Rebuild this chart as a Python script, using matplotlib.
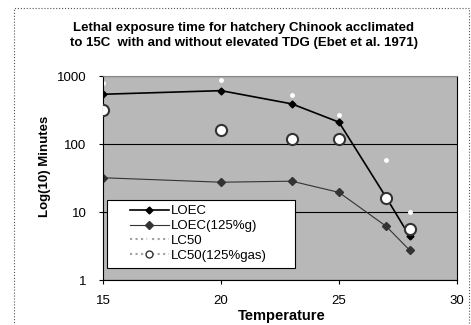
import matplotlib
matplotlib.use('Agg')
import matplotlib.pyplot as plt
from matplotlib.patches import Rectangle

plt.rcParams['font.family'] = ['Liberation Sans', 'DejaVu Sans']

# Data
temps = [15, 20, 23, 25, 27, 28]
loec = [540, 610, 390, 210, 16.5, 4.4]
loec_gas = [32, 27.5, 28.5, 19.5, 6.2, 2.75]
lc50 = [790, 870, 525, 265, 58, 10]
lc50_gas = [315, 160, 120, 120, 16, 5.6]

fig = plt.figure(figsize=(4.71, 3.25), dpi=100)
ax = fig.add_axes([0.219, 0.138, 0.751, 0.628])
ax.set_facecolor('#b8b8b8')

# outer frame of the figure
fig.patches.append(Rectangle((0.03, -0.01), 0.965, 0.985, transform=fig.transFigure,
                             fill=False, edgecolor='#555555', lw=0.8, ls=':'))

ax.set_yscale('log')
ax.set_ylim(1, 1000)
ax.set_xlim(15, 30)
ax.set_xticks([15, 20, 25, 30])
ax.set_yticks([1, 10, 100, 1000])
ax.set_yticklabels(['1', '10', '100', '1000'])
ax.minorticks_off()
ax.yaxis.grid(True, color='black', lw=0.8)
ax.set_axisbelow(True)
for s in ax.spines.values():
    s.set_linewidth(0.8)
ax.spines['top'].set_color('#888888')
ax.tick_params(labelsize=9.5, length=3, width=0.8)
ax.tick_params(axis='y', pad=9)
ax.tick_params(axis='x', pad=8)

ax.plot(temps, loec, '-', color='black', lw=1.2, marker='D', ms=3.5,
        label='LOEC')
ax.plot(temps, loec_gas, '-', color='#333333', lw=0.8, marker='D', ms=4.5,
        label='LOEC(125%g)')
ax.plot(temps, lc50, 'none', marker='o', ms=2.5,
        mfc='white', mec='white', label='LC50')
ax.plot(temps, lc50_gas, 'none', marker='o', ms=8,
        mfc='white', mec='#333333', mew=1.5, label='LC50(125%gas)', zorder=4)

fig.text(0.096, 0.489, 'Log(10) Minutes', rotation=90, ha='center', va='center',
         fontsize=9.5, fontweight='bold')
fig.text(0.599, 0.028, 'Temperature', ha='center', va='center',
         fontsize=10.5, fontweight='bold')
fig.text(0.517, 0.891, 'Lethal exposure time for hatchery Chinook acclimated\n'
         'to 15C  with and without elevated TDG (Ebet et al. 1971)',
         ha='center', va='center', fontsize=9.5, fontweight='bold', linespacing=1.4)

# legend box
ax.add_patch(Rectangle((0.011, 0.059), 0.531, 0.333, transform=ax.transAxes,
                       facecolor='white', edgecolor='black', lw=0.8, zorder=5))
leg = ax.legend(loc='upper left', bbox_to_anchor=(0.075, 0.368), fontsize=9.5,
                frameon=False, borderpad=0, labelspacing=0.2, handlelength=3.0,
                handletextpad=0.1, borderaxespad=0)
leg.set_zorder(6)
hs = leg.legend_handles
hs[2].set_linestyle(':')
hs[2].set_color('#a0a0a0')
hs[3].set_linestyle(':')
hs[3].set_color('#a0a0a0')
hs[3].set_markersize(5)
hs[3].set_markeredgewidth(1.0)

fig.savefig('out.png', dpi=100)
